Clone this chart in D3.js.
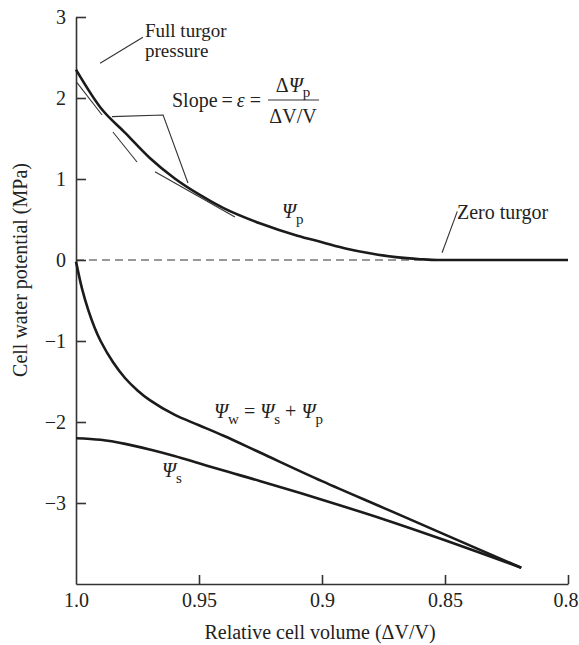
<!DOCTYPE html>
<meta charset="utf-8">
<html>
<head>
    <title>Cell water potential vs relative cell volume</title>
    <script src="https://cdn.jsdelivr.net/npm/d3@7"></script>
</head>
<style>
    body{ margin:0; background:#fff; }
    svg{ display:block; font-family: "Liberation Serif", "Times New Roman", Tinos, Times, "DejaVu Serif", "Noto Serif", FreeSerif, serif; }
    svg text{
        font-family: "Liberation Serif", "Times New Roman", Tinos, Times, "DejaVu Serif", "Noto Serif", FreeSerif, serif;
        fill: #222;
        font-size: 20px;
    }
    .axis path, .axis line{ stroke:#333; stroke-width:1.6px; }
    .axis text{ font-size:20px; fill:#222; }
    .curve{ fill:none; stroke:#1b1b1b; stroke-width:2.6px; }
    .thin{ fill:none; stroke:#333; stroke-width:1.1px; }
    .psi{ font-style: italic; }
    .sub{ font-size: 15px; }
</style>
<body>
<svg width="579" height="645"></svg>

<script>
    // relative volume values (x) and potentials (MPa)
    const volP  = [1.0, 0.99, 0.98, 0.97, 0.96, 0.95, 0.94, 0.925, 0.91, 0.9, 0.89, 0.88, 0.87, 0.86, 0.853, 0.8]
    const psiP  = [2.35, 1.88, 1.57, 1.26, 1.01, 0.81, 0.64, 0.45, 0.30, 0.22, 0.14, 0.08, 0.035, 0.01, 0, 0]

    const volW  = [1.0, 0.9975, 0.995, 0.9925, 0.99, 0.985, 0.98, 0.975, 0.97, 0.96, 0.95, 0.94, 0.925, 0.9, 0.875, 0.85, 0.819]
    const psiW  = [-0.02, -0.36, -0.62, -0.83, -1.0, -1.26, -1.46, -1.61, -1.73, -1.91, -2.04, -2.17, -2.38, -2.73, -3.06, -3.39, -3.8]

    const volS  = [1.0, 0.99, 0.98, 0.97, 0.96, 0.95, 0.94, 0.925, 0.9, 0.875, 0.85, 0.819]
    const psiS  = [-2.2, -2.22, -2.27, -2.34, -2.42, -2.51, -2.6, -2.73, -2.96, -3.2, -3.46, -3.8]

    // tangent segments along psi_p (start, end)
    const tangents = [
        [[0.9996, 2.19], [0.9894, 1.79]],
        [[0.985, 1.58], [0.9752, 1.21]],
        [[0.9679, 1.09], [0.9354, 0.53]]
    ]

    const xTicks = [1.0, 0.95, 0.9, 0.85, 0.8]
    const xTickLabels = ["1.0", "0.95", "0.9", "0.85", "0.8"]
    const yTicks = [3, 2, 1, 0, -1, -2, -3]

    const svg = d3.select("svg")
    const x = d3.scaleLinear().domain([1.0, 0.8]).range([76, 568])
    const y = d3.scaleLinear().domain([-4, 3]).range([584, 17])

    // ***************************************
    //        axes
    // ***************************************
    const xAxis = d3.axisBottom(x)
        .tickValues(xTicks)
        .tickSizeInner(-9).tickSizeOuter(0).tickPadding(9)
        .tickFormat((d, i) => xTickLabels[i])
    const gx = svg.append("g").attr("class", "axis")
        .attr("transform", `translate(0,${y(-4)})`)
        .call(xAxis)
    gx.selectAll(".tick").filter(d => d === 1.0).select("line").remove()
    // last label sits against the right edge
    gx.selectAll(".tick").filter(d => d === 0.8).select("text").attr("text-anchor", "end").attr("dx", 10)

    const yAxis = d3.axisLeft(y)
        .tickValues(yTicks)
        .tickSizeInner(-10).tickSizeOuter(0).tickPadding(10)
        .tickFormat(d => d < 0 ? "\u2212" + Math.abs(d) : d)
    svg.append("g").attr("class", "axis")
        .attr("transform", `translate(${x(1.0)},0)`)
        .call(yAxis)

    svg.selectAll(".axis").attr("font-family", null).attr("font-size", null)

    // axis titles
    svg.append("text")
        .attr("x", 320).attr("y", 639)
        .attr("text-anchor", "middle")
        .text("Relative cell volume (\u0394V/V)")
    svg.append("text")
        .attr("transform", "translate(27,270) rotate(-90)")
        .attr("text-anchor", "middle")
        .text("Cell water potential (MPa)")

    // zero line
    svg.append("line")
        .attr("x1", x(1.0)).attr("x2", x(0.8))
        .attr("y1", y(0)).attr("y2", y(0))
        .attr("stroke", "#333").attr("stroke-width", 1.2)
        .attr("stroke-dasharray", "8,5")

    // ***************************************
    //        curves
    // ***************************************
    const line = d3.line()
        .x(d => x(d[0])).y(d => y(d[1]))

    const series = [
        d3.zip(volP, psiP),
        d3.zip(volW, psiW),
        d3.zip(volS, psiS)
    ]
    svg.selectAll(".curve").data(series).enter()
        .append("path").attr("class", "curve")
        .attr("d", (d, i) => i === 0 ? line.curve(d3.curveMonotoneX)(d) : line.curve(d3.curveCatmullRom.alpha(0.5))(d))

    svg.selectAll(".tangent").data(tangents).enter()
        .append("line").attr("class", "thin tangent")
        .attr("x1", d => x(d[0][0])).attr("y1", d => y(d[0][1]))
        .attr("x2", d => x(d[1][0])).attr("y2", d => y(d[1][1]))

    // ***************************************
    //        annotations
    // ***************************************
    const leader = (pts) => svg.append("polyline").attr("class", "thin")
        .attr("points", pts.map(p => x(p[0]) + "," + y(p[1])).join(" "))

    // full turgor
    leader([[0.9902, 2.43], [0.9728, 2.75]])
    svg.append("text").attr("x", 145).attr("y", 37).style("font-size", "19px").text("Full turgor")
    svg.append("text").attr("x", 145).attr("y", 57).style("font-size", "19px").text("pressure")

    // slope
    leader([[0.9854, 1.77], [0.9646, 1.79], [0.9545, 0.95]])
    const slope = svg.append("text").attr("x", 172).attr("y", 107)
    slope.append("tspan").text("Slope\u2009=\u2009")
    slope.append("tspan").attr("class", "psi").text("\u03b5")
    slope.append("tspan").text(" =")
    const num = svg.append("text").attr("x", 293).attr("y", 92)
        .attr("text-anchor", "middle")
    num.append("tspan").text("\u0394")
    num.append("tspan").attr("class", "psi").text("\u03a8")
    num.append("tspan").attr("class", "sub").attr("dy", 5).text("p")
    svg.append("line").attr("class", "thin")
        .attr("x1", 268).attr("x2", 319).attr("y1", 100).attr("y2", 100)
    svg.append("text").attr("x", 293).attr("y", 123)
        .attr("text-anchor", "middle").text("\u0394V/V")

    // zero turgor
    leader([[0.8512, 0.09], [0.845, 0.6]])
    svg.append("text").attr("x", 457).attr("y", 219).text("Zero turgor")

    // curve labels
    const psiLabel = (px, py, parts) => {
        const t = svg.append("text").attr("x", px).attr("y", py)
        parts.forEach(p => {
            if (p[0] === "P") t.append("tspan").attr("class", "psi").text("\u03a8")
            if (p[0] === "s") t.append("tspan").attr("class", "sub").attr("dy", p[1]).text(p[2])
            if (p[0] === "t") t.append("tspan").attr("dy", p[1]).text(p[2])
        })
    }
    psiLabel(282, 218, [["P"], ["s", 6, "p"]])
    psiLabel(214, 418, [["P"], ["s", 6, "w"], ["t", -6, " = "], ["P"], ["s", 6, "s"], ["t", -6, " + "], ["P"], ["s", 6, "p"]])
    psiLabel(162, 477, [["P"], ["s", 6, "s"]])
</script>
</body>
</html>
